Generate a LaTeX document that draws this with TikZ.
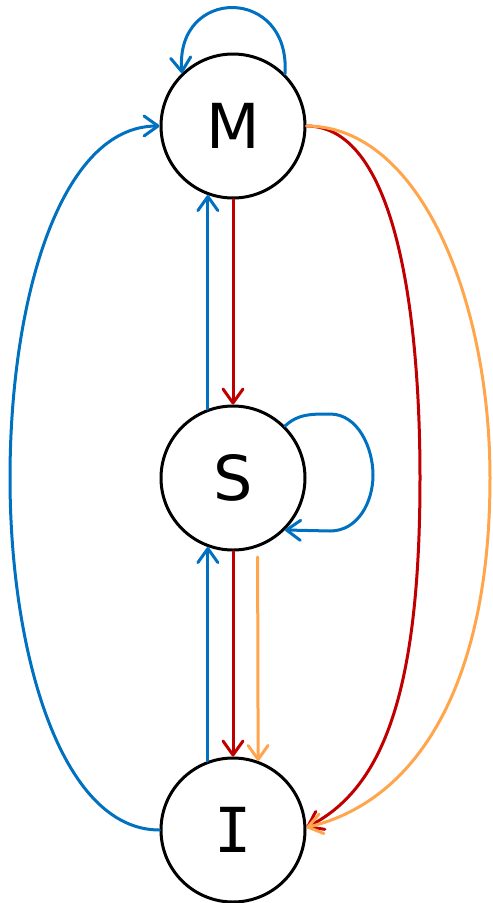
\documentclass[tikz,border=0pt]{standalone}
\usepackage{fontspec}
\setmainfont{DejaVu Sans}
\newfontfamily\monofnt{DejaVu Sans Mono}
\usetikzlibrary{arrows.meta}
\definecolor{eblue}{RGB}{0,112,192}
\definecolor{ered}{RGB}{192,0,0}
\definecolor{eorange}{RGB}{255,166,77}
\begin{document}
\begin{tikzpicture}[x=1pt,y=-1pt,
  state/.style={circle,draw=black,line width=3pt,minimum size=144pt,inner sep=0pt,
    font=\fontsize{62}{62}\selectfont},
  edge/.style={line width=3pt,line cap=round,
    -{Straight Barb[length=14pt,width=20pt,round]}},
  bl/.style={edge,eblue},
  rd/.style={edge,ered},
  og/.style={edge,eorange}]
\useasboundingbox (0,0) rectangle (493,903);
\node[state] (M) at (233,126) {M};
\node[state] (S) at (233,478) {S};
\node[state] (I) at (233,830) {{\monofnt I}};
\coordinate (os) at (257.6,557);
% M self loop
\draw[bl] (M.45) .. controls (291,-14) and (175,-14) .. (M.134);
% M <-> S
\draw[rd] (M) -- (S);
\draw[bl] (S.110) -- (M.-110);
% S self loop
\draw[bl] (S.45) .. controls (298,414) and (310,414) .. (330,414)
  .. controls (358,414) and (373,448) .. (373,475)
  .. controls (373,502) and (358,531) .. (330,531) -- (S.-45);
% S <-> I
\draw[rd] (S) -- (I);
\draw[bl] (I.110) -- (S.-110);
\draw[og] (os) -- (I.70);
% M -> I long arcs
\draw[rd] (M.east) .. controls (400,126) and (420,330) .. (420,478)
  .. controls (420,700) and (380,790) .. (I.2);
\draw[og] (M.east) .. controls (420,126) and (490,300) .. (490,478)
  .. controls (490,680) and (420,800) .. (I.2);
% I -> M
\draw[bl] (I.west) .. controls (60,830) and (10,650) .. (10,478)
  .. controls (10,300) and (60,126) .. (M.west);
\end{tikzpicture}
\end{document}
